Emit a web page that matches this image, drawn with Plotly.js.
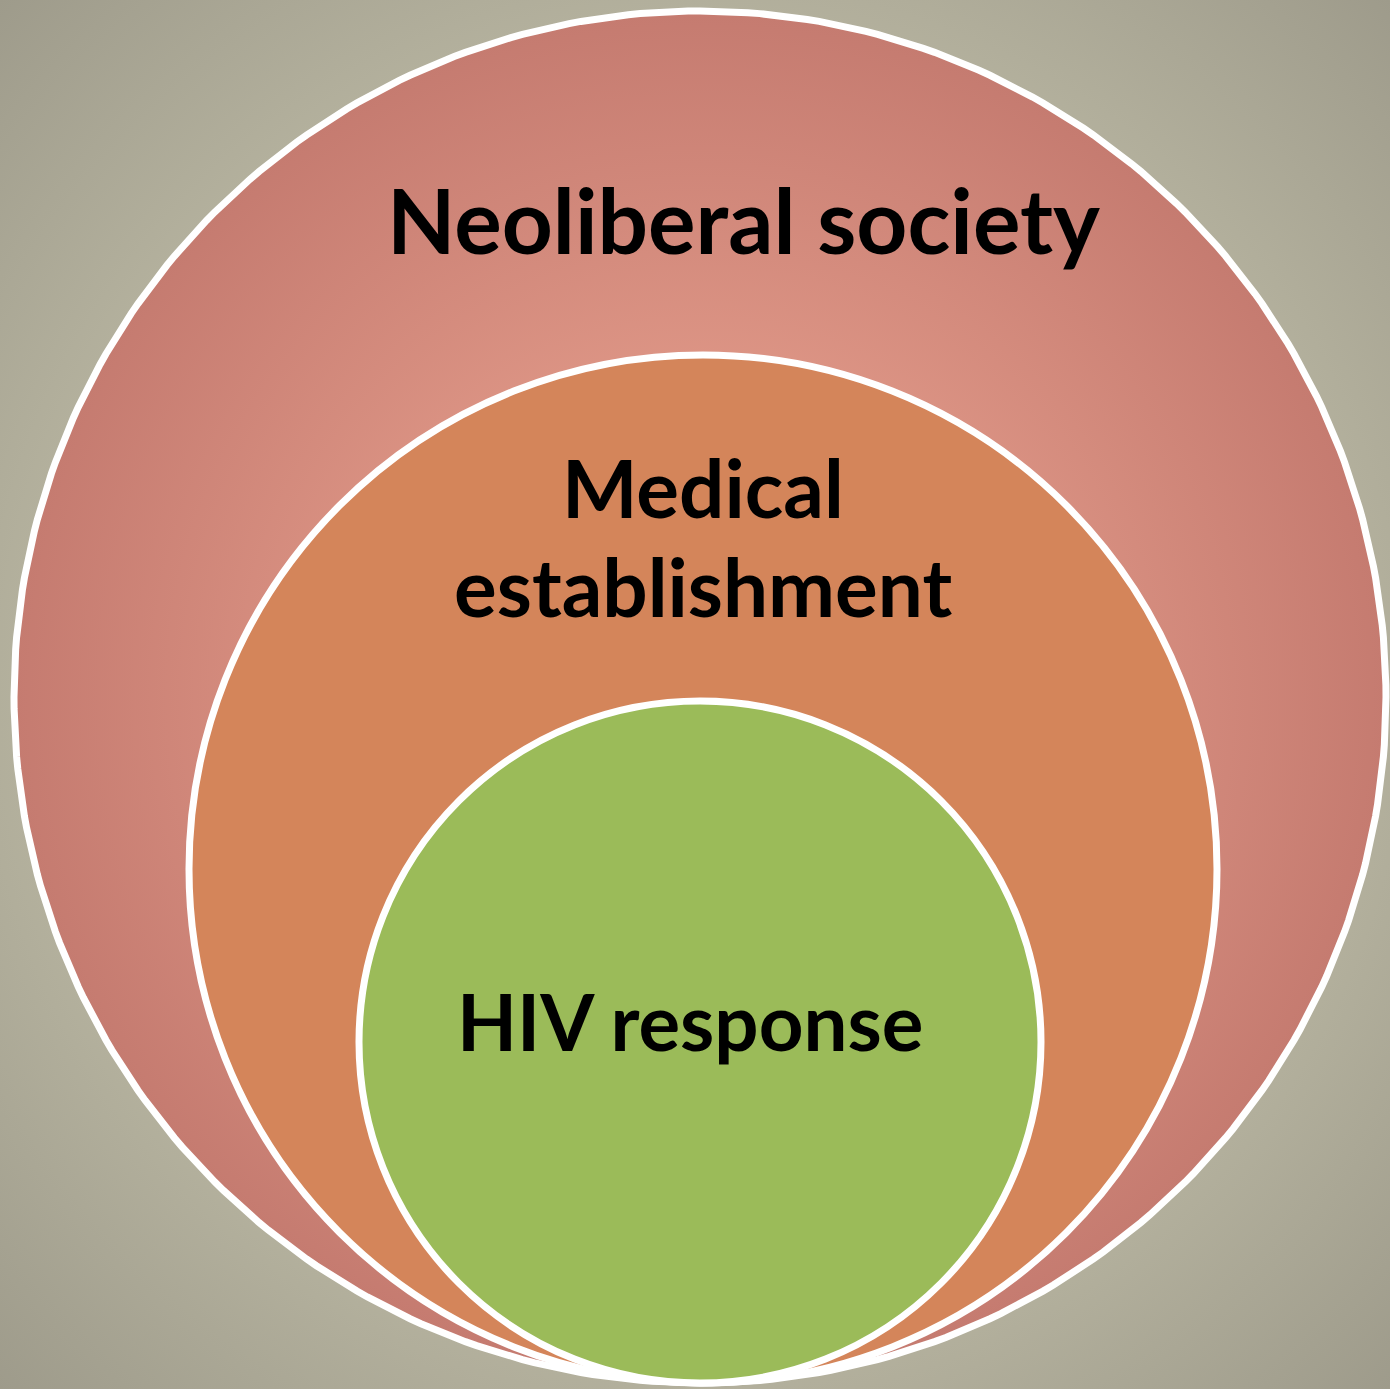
<!DOCTYPE html>
<html>
<head>
<meta charset="utf-8">
<script src="https://cdn.plot.ly/plotly-3.0.1.min.js"></script>
<style>
  html, body { margin: 0; padding: 0; width: 1390px; height: 1389px; overflow: hidden; }
  body { background: radial-gradient(ellipse at 50% 50%, #cdcab5 0%, #bdbaa5 55%, #9e9b8b 100%); }
  #chart { width: 1390px; height: 1389px; }
</style>
</head>
<body>
<div id="chart"></div>
<script>
// Layers of the diagram, outermost first
const layers = ['Neoliberal society', 'Medical', 'establishment', 'HIV response'];
const layerNames = ['Neoliberal society', 'Medical establishment', 'HIV response'];
const radii = [686, 514, 341];

// Geometry / style (not data)
const bottomY = 1383;
const centersX = [700, 703, 700];
const fills = ['#d08676', '#d4855a', '#9bbb59'];

function circlePath(cx, cy, r) {
  const xs = [], ys = [];
  for (let i = 0; i <= 360; i++) {
    const a = i * Math.PI / 180;
    xs.push(cx + r * Math.cos(a));
    ys.push(cy + r * Math.sin(a));
  }
  return {xs, ys};
}

const outer = circlePath(centersX[0], bottomY - radii[0], radii[0]);
const traces = [{
  type: 'scatter', mode: 'lines', x: outer.xs, y: outer.ys,
  name: layerNames[0], fill: 'toself',
  fillgradient: {type: 'radial', colorscale: [[0, '#e6a292'], [0.45, '#de9686'], [1, '#c57b70']]},
  line: {color: '#ffffff', width: 7}, hoverinfo: 'skip', showlegend: false
}];

const shapes = [1, 2].map(i => ({
  type: 'circle', xref: 'x', yref: 'y', layer: 'above',
  x0: centersX[i] - radii[i], x1: centersX[i] + radii[i],
  y0: bottomY - 2 * radii[i], y1: bottomY,
  fillcolor: fills[i], line: {color: '#ffffff', width: 7}
}));

const fontBase = {family: 'Lato, "Open Sans", sans-serif', color: '#000000', weight: 700};
const textPos = [[743, 219, 89], [703, 487, 80], [703, 586, 80], [690, 1021, 78]];
const annotations = layers.map((t, i) => ({
  text: '<b>' + t + '</b>', x: textPos[i][0], y: textPos[i][1], xref: 'x', yref: 'y',
  showarrow: false, xanchor: 'center', yanchor: 'middle',
  font: Object.assign({}, fontBase, {size: textPos[i][2]})
}));

const layout = {
  width: 1390, height: 1389,
  margin: {l: 0, r: 0, t: 0, b: 0},
  paper_bgcolor: 'rgba(0,0,0,0)', plot_bgcolor: 'rgba(0,0,0,0)',
  xaxis: {range: [0, 1390], visible: false, fixedrange: true},
  yaxis: {range: [1389, 0], visible: false, fixedrange: true},
  shapes: shapes, annotations: annotations, showlegend: false
};

Plotly.newPlot('chart', traces, layout, {displayModeBar: false, staticPlot: true});
</script>
</body>
</html>
